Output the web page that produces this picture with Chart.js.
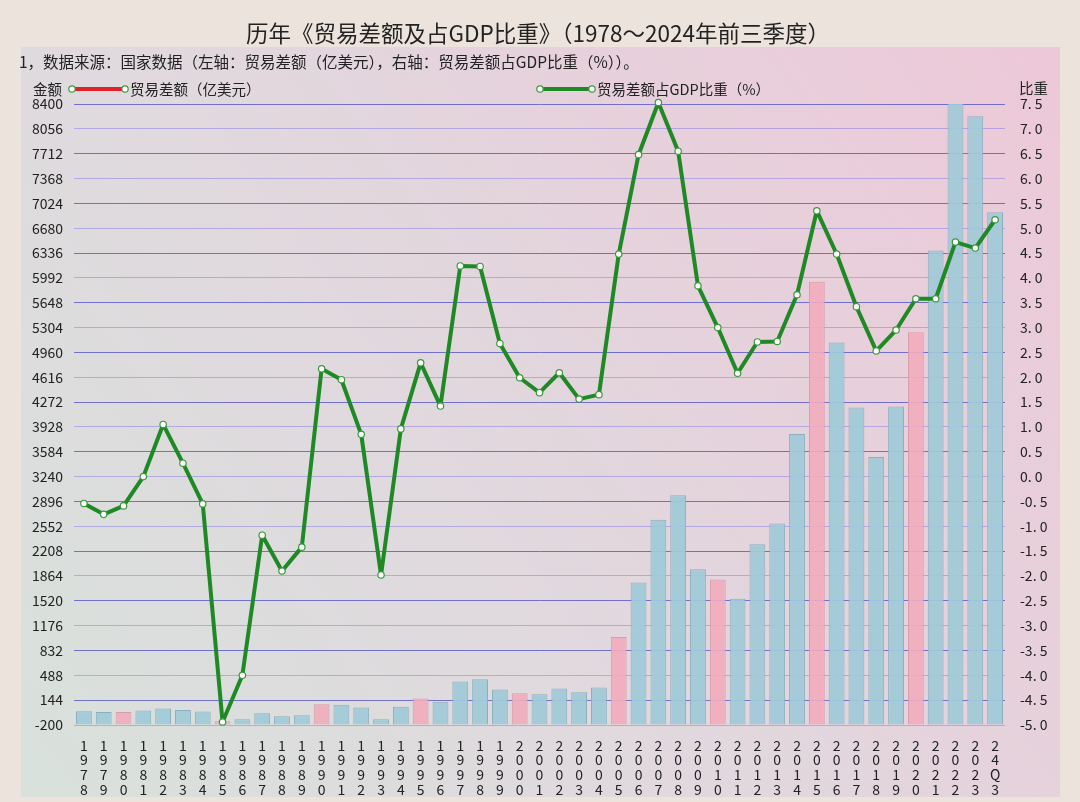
<!DOCTYPE html>
<html>
<head>
<meta charset="utf-8">
<script src="https://cdn.jsdelivr.net/npm/chart.js@4.4.1/dist/chart.umd.min.js"></script>
<style>
  html, body { margin: 0; padding: 0; background: #ece4dc; }
  canvas { display: block; }
</style>
</head>
<body>
<canvas id="tradeChart" width="1080" height="802"></canvas>
<script>
// 年份（最后一个为2024年前三季度）
const years = ['1978','1979','1980','1981','1982','1983','1984','1985','1986','1987',
  '1988','1989','1990','1991','1992','1993','1994','1995','1996','1997',
  '1998','1999','2000','2001','2002','2003','2004','2005','2006','2007',
  '2008','2009','2010','2011','2012','2013','2014','2015','2016','2017',
  '2018','2019','2020','2021','2022','2023','24Q3'];

// 贸易差额（亿美元）
const balance = [-11, -20, -19, 0, 30, 8, -13,
  -149, -120, -38, -78, -66,
  87, 81, 44, -122, 54, 167, 122, 404, 435, 292,
  241, 226, 304, 255, 321, 1020, 1775, 2643, 2981, 1957,
  1815, 1549, 2303, 2590, 3831, 5939, 5097, 4196, 3510, 4211,
  5240, 6370, 8776, 8232, 6900];

// 贸易差额占GDP比重（%）
const ratio = [-0.54, -0.76, -0.59, 0.0, 1.05, 0.27, -0.55,
  -4.94, -4.0, -1.18, -1.9, -1.42,
  2.17, 1.95, 0.85, -1.98, 0.96, 2.29, 1.42, 4.24, 4.23, 2.68,
  1.99, 1.69, 2.09, 1.56, 1.65, 4.48, 6.48, 7.53, 6.55, 3.84,
  3.0, 2.08, 2.71, 2.72, 3.66, 5.35, 4.48, 3.42, 2.53, 2.95,
  3.58, 3.58, 4.72, 4.6, 5.17];

// 逢5年份用粉色柱
const highlight = years.map(y => y.length === 4 && Number(y) % 5 === 0);

const leftTicks = [-200, 144, 488, 832, 1176, 1520, 1864, 2208, 2552, 2896, 3240,
  3584, 3928, 4272, 4616, 4960, 5304, 5648, 5992, 6336, 6680, 7024, 7368, 7712, 8056, 8400];
const rightTicks = [-5.0, -4.5, -4.0, -3.5, -3.0, -2.5, -2.0, -1.5, -1.0, -0.5, 0.0,
  0.5, 1.0, 1.5, 2.0, 2.5, 3.0, 3.5, 4.0, 4.5, 5.0, 5.5, 6.0, 6.5, 7.0, 7.5];

const FONT = '"Noto Sans CJK SC", "Noto Sans", sans-serif';
Chart.defaults.font.family = FONT;
Chart.defaults.color = '#222';

const GREEN = '#1f8a25';
const RED = '#e0212b';

const decor = {
  id: 'decor',
  beforeDraw(chart) {
    const ctx = chart.ctx;
    ctx.save();
    ctx.fillStyle = '#ece4dc';
    ctx.fillRect(0, 0, chart.width, chart.height);
    const g = ctx.createLinearGradient(21, 797, 1060, 47);
    g.addColorStop(0, '#d8e1db');
    g.addColorStop(0.45, '#e1d8de');
    g.addColorStop(1, '#edc8d8');
    ctx.fillStyle = g;
    ctx.fillRect(21, 47, 1039, 750);
    ctx.restore();
  },
  afterDraw(chart) {
    const ctx = chart.ctx;
    ctx.save();
    ctx.fillStyle = '#222';
    ctx.textBaseline = 'middle';
    ctx.font = '22.5px ' + FONT;
    ctx.textAlign = 'center';
    ctx.fillText('历年《贸易差额及占GDP比重》（1978～2024年前三季度）', 538, 33);
    ctx.textAlign = 'left';
    ctx.font = '15.5px ' + FONT;
    ctx.fillText('1，数据来源：国家数据（左轴：贸易差额（亿美元），右轴：贸易差额占GDP比重（%））。', 19, 62);
    ctx.font = '14.5px ' + FONT;
    ctx.fillText('金额', 33, 89);
    ctx.fillText('比重', 1019, 88);

    const legendItem = (x0, x1, color, text) => {
      ctx.strokeStyle = color;
      ctx.lineWidth = 4;
      ctx.beginPath();
      ctx.moveTo(x0, 89);
      ctx.lineTo(x1, 89);
      ctx.stroke();
      [x0, x1].forEach(x => {
        ctx.beginPath();
        ctx.arc(x, 89, 3.2, 0, Math.PI * 2);
        ctx.fillStyle = '#fff';
        ctx.fill();
        ctx.lineWidth = 1.2;
        ctx.strokeStyle = '#3a9a3a';
        ctx.stroke();
      });
      ctx.fillStyle = '#222';
      ctx.fillText(text, x1 + 5, 89);
    };
    legendItem(72, 125, RED, '贸易差额（亿美元）');
    legendItem(540, 592, GREEN, '贸易差额占GDP比重（%）');
    ctx.restore();
  }
};

new Chart(document.getElementById('tradeChart').getContext('2d'), {
  data: {
    labels: years.map(y => y.split('')),
    datasets: [
      {
        type: 'line',
        label: '贸易差额占GDP比重（%）',
        data: ratio,
        yAxisID: 'y1',
        borderColor: GREEN,
        borderWidth: 4,
        borderJoinStyle: 'round',
        borderCapStyle: 'round',
        pointRadius: 3.2,
        pointBackgroundColor: '#fff',
        pointBorderColor: '#3a9a3a',
        pointBorderWidth: 1.2,
        tension: 0,
        clip: false,
        order: 0
      },
      {
        type: 'bar',
        label: '贸易差额（亿美元）',
        data: balance,
        yAxisID: 'y',
        base: -200,
        backgroundColor: highlight.map(h => h ? 'rgba(242,172,187,0.9)' : 'rgba(160,202,216,0.92)'),
        borderColor: highlight.map(h => h ? '#d99aa9' : '#8cafbd'),
        borderWidth: 1,
        barPercentage: 0.8,
        categoryPercentage: 1.0,
        order: 1
      }
    ]
  },
  options: {
    responsive: false,
    animation: false,
    devicePixelRatio: 1,
    layout: { padding: { top: 104, left: 0, right: 0, bottom: 0 } },
    plugins: {
      legend: { display: false },
      title: { display: false },
      tooltip: { enabled: false }
    },
    scales: {
      x: {
        offset: true,
        grid: { display: false },
        border: { display: false },
        ticks: {
          autoSkip: false,
          maxRotation: 0,
          padding: 5,
          font: { size: 14, lineHeight: 1.05 },
          color: '#222'
        },
        afterFit(scale) { scale.height = 77; }
      },
      y: {
        position: 'left',
        min: -200,
        max: 8400,
        border: { display: false },
        grid: {
          drawTicks: false,
          lineWidth: 1,
          color: c => c.index % 2 === 1 ? 'rgba(70,70,200,0.72)' : 'rgba(140,130,230,0.55)'
        },
        afterBuildTicks(scale) { scale.ticks = leftTicks.map(v => ({ value: v })); },
        ticks: {
          padding: 11,
          font: { size: 14 },
          color: '#222',
          callback: v => String(v)
        },
        afterFit(scale) { scale.width = 74; }
      },
      y1: {
        position: 'right',
        min: -5,
        max: 7.5,
        border: { display: false },
        grid: { drawOnChartArea: false, drawTicks: false },
        afterBuildTicks(scale) { scale.ticks = rightTicks.map(v => ({ value: v })); },
        ticks: {
          padding: 15,
          font: { size: 14 },
          color: '#222',
          callback: v => Number(v).toFixed(1).replace('.', '. ')
        },
        afterFit(scale) { scale.width = 75; }
      }
    }
  },
  plugins: [decor]
});
</script>
</body>
</html>
